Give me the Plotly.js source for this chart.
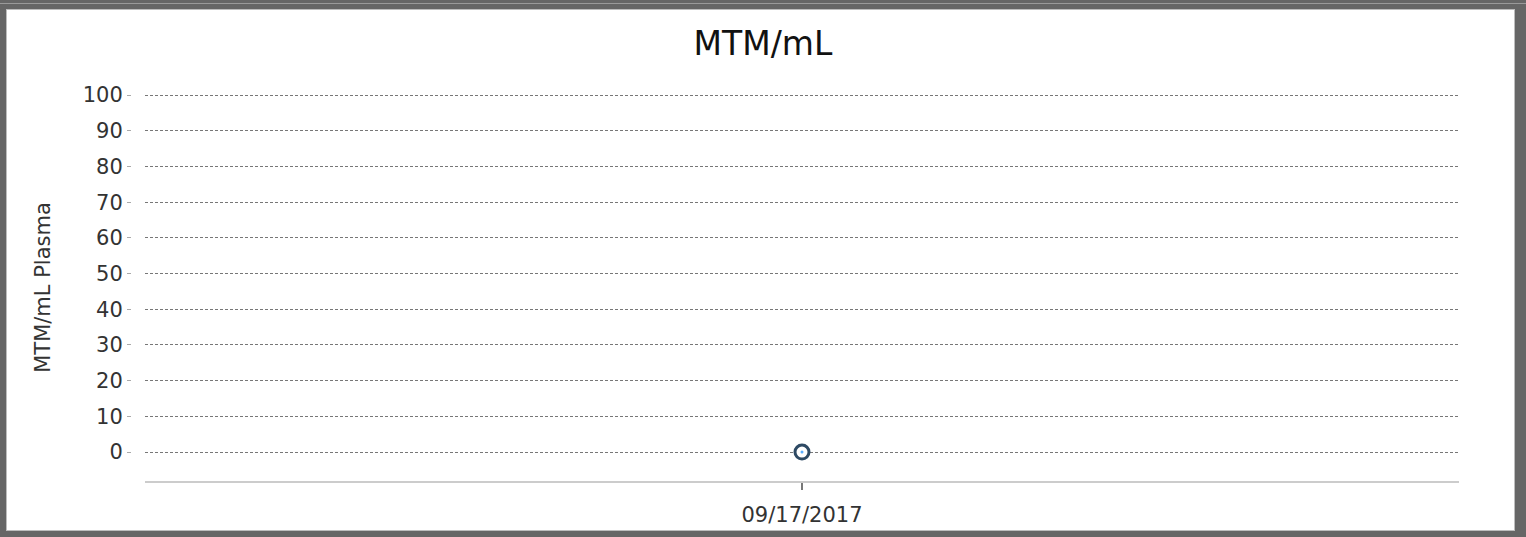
<!DOCTYPE html>
<html>
<head>
<meta charset="utf-8">
<script src="https://cdn.plot.ly/plotly-3.0.1.min.js"></script>
<style>
  html, body { margin: 0; padding: 0; width: 1526px; height: 537px; background: #666666; overflow: hidden; }
  #strip { position: absolute; left: 0; top: 3px; width: 1526px; height: 1px; background: #9a9a9a; }
  #panel { position: absolute; left: 6px; top: 9px; width: 1509px; height: 522px; background: #ffffff; border: 1px solid #bdbdbd; box-sizing: border-box; }
  #chart { position: absolute; left: 0; top: 0; width: 1526px; height: 537px; }
</style>
</head>
<body>
<div id="strip"></div>
<div id="panel"></div>
<div id="chart"></div>
<script>
// Data
const dates = ["09/17/2017"];
const values = [0];
const yTickVals = [0, 10, 20, 30, 40, 50, 60, 70, 80, 90, 100];
const chartTitle = "MTM/mL";
const yTitle = "MTM/mL Plasma";

const W = 1526, H = 537;
const plotLeft = 145, plotRight = 1459, plotTop = 94, plotBottom = 481;

const traces = [
  {
    type: "scatter",
    mode: "markers",
    x: dates,
    y: values,
    marker: { symbol: "circle", size: 14, color: "#ffffff", line: { color: "#2e4a64", width: 3 } },
    hoverinfo: "x+y",
    showlegend: false
  },
  {
    type: "scatter",
    mode: "markers",
    x: dates,
    y: values,
    marker: { symbol: "circle", size: 3, color: "#5aaeff" },
    hoverinfo: "skip",
    showlegend: false
  }
];

const layout = {
  width: W,
  height: H,
  paper_bgcolor: "rgba(0,0,0,0)",
  plot_bgcolor: "rgba(0,0,0,0)",
  margin: { l: 0, r: 0, t: 0, b: 0, pad: 0 },
  showlegend: false,
  font: { family: "DejaVu Sans, Verdana, sans-serif", color: "#333333" },
  title: {
    text: chartTitle,
    font: { family: "DejaVu Sans, Verdana, sans-serif", size: 33, color: "#111111" },
    x: 0.5, xanchor: "center", xref: "paper",
    y: 1 - 43 / H, yanchor: "middle", yref: "paper"
  },
  xaxis: {
    type: "category",
    domain: [plotLeft / W, plotRight / W],
    range: [-0.5, 0.5],
    showgrid: false,
    zeroline: false,
    showline: true,
    linecolor: "#cccccc",
    linewidth: 2,
    ticks: "outside",
    ticklen: 7,
    tickwidth: 2,
    tickcolor: "#777777",
    ticklabelstandoff: 7,
    tickfont: { size: 21, color: "#333333" },
    automargin: false,
    fixedrange: true
  },
  yaxis: {
    domain: [1 - plotBottom / H, 1 - plotTop / H],
    range: [-8.12, 100.3],
    tickvals: yTickVals,
    anchor: "free",
    position: 131 / W,
    showline: false,
    zeroline: false,
    showgrid: true,
    gridcolor: "#777777",
    gridwidth: 1,
    griddash: "3px,2px",
    ticks: "outside",
    ticklen: 4,
    tickwidth: 1,
    tickcolor: "#aaaaaa",
    tickfont: { size: 21, color: "#333333" },
    title: { text: yTitle, font: { size: 21, color: "#333333" }, standoff: 25 },
    automargin: false,
    fixedrange: true
  }
};

Plotly.newPlot("chart", traces, layout, { displayModeBar: false, staticPlot: true });
</script>
</body>
</html>
